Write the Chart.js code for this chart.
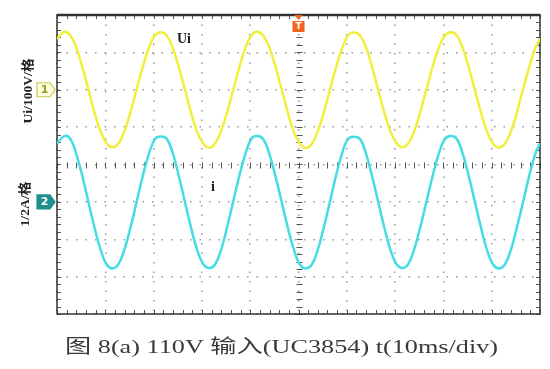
<!DOCTYPE html>
<html>
<head>
<meta charset="utf-8">
<script src="https://cdn.jsdelivr.net/npm/chart.js@4.4.0/dist/chart.umd.min.js"></script>
<style>
  body{margin:0;background:#fff;}
  #wrap{width:550px;height:369px;}
</style>
</head>
<body>
<div id="wrap"><canvas id="scope" width="550" height="369"></canvas></div>
<script>
// time axis (ms), 10 ms per division
const timeMs = [0,
  1.5, 2.75, 4, 5.25, 6.5, 7.75, 9, 10.25, 11.5, 12.75, 14, 15.25, 16.5, 17.75, 19, 20.25,
  21.5, 22.75, 24, 25.25, 26.5, 27.75, 29, 30.25, 31.5, 32.75, 34, 35.25, 36.5, 37.75, 39, 40.25,
  41.5, 42.75, 44, 45.25, 46.5, 47.75, 49, 50.25, 51.5, 52.75, 54, 55.25, 56.5, 57.75, 59, 60.25,
  61.5, 62.75, 64, 65.25, 66.5, 67.75, 69, 70.25, 71.5, 72.75, 74, 75.25, 76.5, 77.75, 79, 80.25,
  81.5, 82.75, 84, 85.25, 86.5, 87.75, 89, 90.25, 91.5, 92.75, 94, 95.25, 96.5, 97.75, 99,
  100];
// channel 1 (Ui), in screen divisions
const uiDiv = [3.36,
  3.55, 3.46, 3.13, 2.60, 2.01, 1.40, 0.89, 0.57, 0.46, 0.56, 0.90, 1.42, 2.02, 2.61, 3.11, 3.45,
  3.54, 3.45, 3.11, 2.59, 2.00, 1.39, 0.88, 0.56, 0.45, 0.57, 0.91, 1.41, 2.01, 2.60, 3.12, 3.46,
  3.55, 3.44, 3.12, 2.61, 2.02, 1.41, 0.88, 0.57, 0.44, 0.55, 0.89, 1.40, 2.00, 2.59, 3.10, 3.45,
  3.53, 3.45, 3.13, 2.60, 1.99, 1.40, 0.90, 0.58, 0.46, 0.57, 0.90, 1.42, 2.01, 2.61, 3.11, 3.44,
  3.54, 3.46, 3.12, 2.59, 2.00, 1.41, 0.89, 0.56, 0.45, 0.56, 0.89, 1.41, 2.02, 2.60, 3.11,
  3.37];
// channel 2 (i), in screen divisions
const iDiv = [0.56,
  0.76, 0.69, 0.28, -0.31, -1.00, -1.68, -2.27, -2.67, -2.78, -2.66, -2.26, -1.67, -0.99, -0.31, 0.27, 0.68,
  0.75, 0.68, 0.29, -0.32, -1.01, -1.69, -2.28, -2.66, -2.77, -2.67, -2.27, -1.66, -0.98, -0.30, 0.28, 0.69,
  0.76, 0.67, 0.27, -0.33, -0.99, -1.67, -2.26, -2.67, -2.78, -2.68, -2.28, -1.68, -1.00, -0.31, 0.29, 0.68,
  0.74, 0.68, 0.28, -0.32, -1.00, -1.68, -2.27, -2.66, -2.77, -2.66, -2.25, -1.66, -0.99, -0.32, 0.27, 0.67,
  0.76, 0.69, 0.29, -0.31, -0.99, -1.67, -2.28, -2.67, -2.78, -2.67, -2.27, -1.67, -1.00, -0.31, 0.28,
  0.57];

const channelNames = ['Ui', 'i'];
const channelLevels = [2, -1];
const axisTitles = ['Ui/100V/格', '1/2A/格'];
const caption = '图 8(a) 110V 输入(UC3854) t(10ms/div)';
const triggerMs = 50;

const toPoints = (ys) => timeMs.map((t, i) => ({x: t, y: ys[i]}));

// frame, minor ticks, channel markers and labels
const scopeDecor = {
  id: 'scopeDecor',
  beforeDatasetsDraw(chart) {
    const {ctx, chartArea: a, scales: {x, y}} = chart;
    ctx.save();
    ctx.strokeStyle = '#555';
    ctx.lineWidth = 1;
    // minor ticks every 1/5 division
    for (let t = 0; t <= 100; t += 2) {
      const px = Math.round(x.getPixelForValue(t)) + 0.5;
      ctx.beginPath();
      ctx.moveTo(px, a.top); ctx.lineTo(px, a.top + 4);
      ctx.moveTo(px, a.bottom); ctx.lineTo(px, a.bottom - 4);
      const cy = Math.round(y.getPixelForValue(0)) + 0.5;
      ctx.moveTo(px, cy - 3); ctx.lineTo(px, cy + 3);
      ctx.stroke();
    }
    for (let v = -4; v <= 4.001; v += 0.2) {
      const py = Math.round(y.getPixelForValue(v)) + 0.5;
      ctx.beginPath();
      ctx.moveTo(a.left, py); ctx.lineTo(a.left + 4, py);
      ctx.moveTo(a.right, py); ctx.lineTo(a.right - 4, py);
      const cx = Math.round(x.getPixelForValue(triggerMs)) + 0.5;
      ctx.moveTo(cx - 3, py); ctx.lineTo(cx + 3, py);
      ctx.stroke();
    }
    ctx.strokeStyle = '#333';
    ctx.lineWidth = 1.5;
    ctx.strokeRect(a.left, a.top, a.right - a.left, a.bottom - a.top);
    ctx.lineWidth = 2.5;
    ctx.beginPath(); ctx.moveTo(a.left, a.top); ctx.lineTo(a.right, a.top); ctx.stroke();
    ctx.restore();
  },
  afterDatasetsDraw(chart) {
    const {ctx, chartArea: a, scales: {x, y}} = chart;
    ctx.save();
    // channel markers
    const marker = (level, fill, stroke, txt, txtColor) => {
      const py = y.getPixelForValue(level);
      const l = a.left - 20, r = a.left - 2;
      ctx.beginPath();
      ctx.moveTo(l, py - 7); ctx.lineTo(r - 5, py - 7); ctx.lineTo(r, py);
      ctx.lineTo(r - 5, py + 7); ctx.lineTo(l, py + 7); ctx.closePath();
      ctx.fillStyle = fill; ctx.fill();
      ctx.strokeStyle = stroke; ctx.lineWidth = 1.2; ctx.stroke();
      ctx.fillStyle = txtColor;
      ctx.font = 'bold 11px "DejaVu Sans"';
      ctx.textAlign = 'center'; ctx.textBaseline = 'middle';
      ctx.fillText(txt, (l + r - 5) / 2 + 1, py + 0.5);
    };
    marker(channelLevels[0], '#fdfde0', '#c8c848', '1', '#9a9a2a');
    marker(channelLevels[1], '#1e8e8e', '#1e8e8e', '2', '#ffffff');
    // trigger marker
    const tx = x.getPixelForValue(triggerMs);
    ctx.fillStyle = '#f0641e';
    ctx.beginPath();
    ctx.moveTo(tx - 4, a.top); ctx.lineTo(tx + 4, a.top); ctx.lineTo(tx, a.top + 5); ctx.closePath(); ctx.fill();
    ctx.fillRect(tx - 6, a.top + 6, 12, 11);
    ctx.fillStyle = '#fff';
    ctx.font = 'bold 9px "DejaVu Sans"';
    ctx.textAlign = 'center'; ctx.textBaseline = 'middle';
    ctx.fillText('T', tx, a.top + 12);
    // trace names
    ctx.fillStyle = '#222';
    ctx.font = 'bold 14px "Liberation Serif"';
    ctx.textAlign = 'left';
    ctx.fillText(channelNames[0], 177, 39);
    ctx.fillText(channelNames[1], 211, 187);
    // rotated axis titles
    ctx.font = 'bold 13px "Liberation Serif", "Noto Sans CJK SC"';
    ctx.textAlign = 'center';
    [[axisTitles[0], 29, 91, 65], [axisTitles[1], 26, 204, 45]].forEach(([txt, cx, cy, len]) => {
      ctx.save();
      ctx.translate(cx, cy);
      ctx.rotate(-Math.PI / 2);
      ctx.scale(len / ctx.measureText(txt).width, 1);
      ctx.fillText(txt, 0, 0);
      ctx.restore();
    });
    ctx.restore();
  },
  afterDraw(chart) {
    // caption, horizontally stretched like the scanned figure
    const {ctx} = chart;
    ctx.save();
    ctx.font = '19px "Liberation Serif", "Noto Sans CJK SC"';
    ctx.fillStyle = '#3a3a3a';
    ctx.textAlign = 'center'; ctx.textBaseline = 'middle';
    ctx.translate(281.5, 348);
    ctx.scale(433 / ctx.measureText(caption).width, 1);
    ctx.fillText(caption, 0, 0);
    ctx.restore();
  }
};

new Chart(document.getElementById('scope'), {
  type: 'line',
  data: {
    datasets: [{
      label: channelNames[0],
      data: toPoints(uiDiv),
      borderColor: '#f0f03c',
      borderWidth: 2.5,
      pointRadius: 0,
      tension: 0.4
    }, {
      label: channelNames[1],
      data: toPoints(iDiv),
      borderColor: '#44dde6',
      borderWidth: 2.5,
      pointRadius: 0,
      tension: 0.4
    }]
  },
  options: {
    responsive: false,
    animation: false,
    layout: {padding: {left: 57, right: 10, top: 15, bottom: 55}},
    plugins: {
      legend: {display: false},
      tooltip: {enabled: false},
      title: {display: false}
    },
    scales: {
      x: {
        type: 'linear', min: 0, max: 100,
        ticks: {display: false, stepSize: 10},
        grid: {color: '#999', lineWidth: 1.5, drawTicks: false},
        border: {display: false, dash: [1.5, 8]}
      },
      y: {
        min: -4, max: 4,
        ticks: {display: false, stepSize: 1},
        grid: {color: '#999', lineWidth: 1.5, drawTicks: false},
        border: {display: false, dash: [1.5, 8]}
      }
    }
  },
  plugins: [scopeDecor]
});
</script>
</body>
</html>
